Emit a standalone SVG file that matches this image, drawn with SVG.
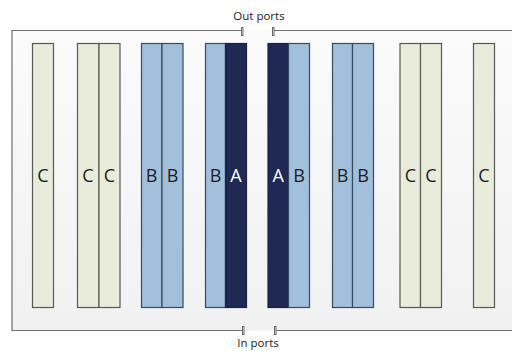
<svg xmlns="http://www.w3.org/2000/svg" width="512" height="351" viewBox="0 0 512 351">
  <defs>
    <linearGradient id="bg" x1="0" y1="0" x2="0" y2="1">
      <stop offset="0" stop-color="#fbfbfb"/>
      <stop offset="1" stop-color="#f1f1f1"/>
    </linearGradient>
    <style>
      .frame { stroke: #6e6e6e; stroke-width: 1.2; fill: none; }
      .tick { stroke: #666; stroke-width: 1; fill: #fff; }
      .c { fill: #e9ebdb; stroke: #555a55; stroke-width: 1.2; }
      .b { fill: #a2bfdc; stroke: #3a4a5e; stroke-width: 1.2; }
      .a { fill: #1f2a54; stroke: #1a2244; stroke-width: 1.2; }
      .lbl { font-family: "Open Sans", "Noto Sans", sans-serif; font-size: 18px; text-anchor: middle; fill: #1c1c24; }
      .lbl.w { fill: #ffffff; }
      .port { font-family: "Open Sans", "Noto Sans", sans-serif; font-size: 11.5px; text-anchor: middle; fill: #222; }
    </style>
  </defs>

  <rect width="512" height="351" fill="#ffffff"/>

  <!-- chassis frame -->
  <g id="chassis">
    <rect x="12" y="30.5" width="510" height="300" fill="url(#bg)"/>
    <path class="frame" d="M242 30.5 H12 V330.5 H243 M273 30.5 H512 M275 330.5 H512"/>
  </g>

  <!-- port markers -->
  <g id="out-ports">
    <rect class="tick" x="241.5" y="27.5" width="1.5" height="8"/>
    <rect class="tick" x="272.5" y="27.5" width="1.5" height="8"/>
    <text class="port" x="259" y="20">Out ports</text>
  </g>
  <g id="in-ports">
    <rect class="tick" x="242.5" y="326.5" width="1.5" height="8"/>
    <rect class="tick" x="274.5" y="326.5" width="1.5" height="8"/>
    <text class="port" x="258" y="347">In ports</text>
  </g>

  <!-- slot columns -->
  <g id="slot-1">
    <rect class="c" x="32.5" y="43.5" width="21" height="264"/>
    <text class="lbl" x="43" y="181.5">C</text>
  </g>
  <g id="slot-2">
    <rect class="c" x="77.5" y="43.5" width="21.5" height="264"/>
    <rect class="c" x="99" y="43.5" width="21" height="264"/>
    <text class="lbl" x="88" y="181.5">C</text>
    <text class="lbl" x="109.5" y="181.5">C</text>
  </g>
  <g id="slot-3">
    <rect class="b" x="141.5" y="43.5" width="20.5" height="264"/>
    <rect class="b" x="162" y="43.5" width="21" height="264"/>
    <text class="lbl" x="151.5" y="181.5">B</text>
    <text class="lbl" x="172.5" y="181.5">B</text>
  </g>
  <g id="slot-4">
    <rect class="b" x="205.5" y="43.5" width="20" height="264"/>
    <rect class="a" x="225.5" y="43.5" width="21" height="264"/>
    <text class="lbl" x="215.5" y="181.5">B</text>
    <text class="lbl w" x="236" y="181.5">A</text>
  </g>
  <g id="slot-5">
    <rect class="a" x="268" y="43.5" width="20.5" height="264"/>
    <rect class="b" x="288.5" y="43.5" width="21" height="264"/>
    <text class="lbl w" x="278.3" y="181.5">A</text>
    <text class="lbl" x="299" y="181.5">B</text>
  </g>
  <g id="slot-6">
    <rect class="b" x="332.5" y="43.5" width="20" height="264"/>
    <rect class="b" x="352.5" y="43.5" width="21" height="264"/>
    <text class="lbl" x="342.5" y="181.5">B</text>
    <text class="lbl" x="363" y="181.5">B</text>
  </g>
  <g id="slot-7">
    <rect class="c" x="400" y="43.5" width="20.5" height="264"/>
    <rect class="c" x="420.5" y="43.5" width="21" height="264"/>
    <text class="lbl" x="410.3" y="181.5">C</text>
    <text class="lbl" x="431" y="181.5">C</text>
  </g>
  <g id="slot-8">
    <rect class="c" x="473.5" y="43.5" width="21" height="264"/>
    <text class="lbl" x="484" y="181.5">C</text>
  </g>

  <g id="connectors"/>
</svg>
